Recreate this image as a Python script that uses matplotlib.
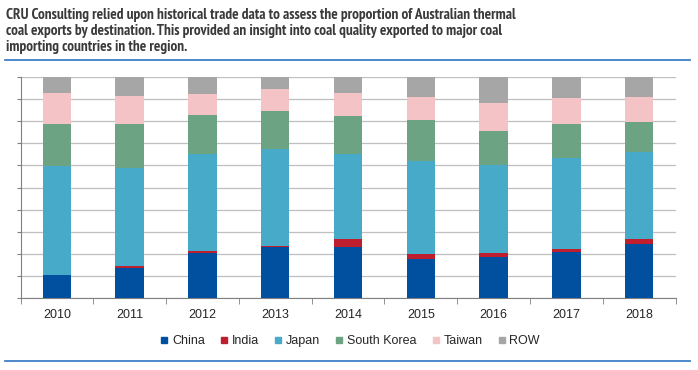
import matplotlib.pyplot as plt
import matplotlib.patheffects as pe
import numpy as np
from matplotlib import font_manager
from matplotlib.lines import Line2D

years = ["2010", "2011", "2012", "2013", "2014", "2015", "2016", "2017", "2018"]
china = [10.5, 13.5, 20.5, 23.0, 23.3, 17.6, 18.5, 21.1, 24.4]
india = [0.0, 0.9, 0.9, 0.6, 3.5, 2.4, 2.0, 1.3, 2.2]
japan = [49.2, 44.5, 43.9, 43.6, 38.5, 41.8, 39.7, 40.8, 39.6]
south_korea = [18.8, 19.6, 17.6, 17.2, 17.1, 18.7, 15.3, 15.3, 13.2]
taiwan = [14.3, 12.8, 9.4, 9.9, 10.4, 10.3, 12.8, 11.9, 11.4]
row = [7.2, 8.7, 7.7, 5.7, 7.2, 9.2, 11.7, 9.6, 9.2]

series = ["China", "India", "Japan", "South Korea", "Taiwan", "ROW"]
colors = ["#00509F", "#BE1E2D", "#47AAC8", "#6BA383", "#F4C3C6", "#A6A6A6"]

title = ("CRU Consulting relied upon historical trade data to assess the proportion of Australian thermal\n"
         "coal exports by destination. This provided an insight into coal quality exported to major coal\n"
         "importing countries in the region.")

# the original heading is in a bold narrow face; pick the file directly if there is one
narrow = [f for f in font_manager.fontManager.ttflist
          if ("Narrow" in f.name or "Narrow" in f.fname) and "Italic" not in f.fname]
bold_narrow = [f for f in narrow if "Bold" in f.fname or f.weight in (700, "bold")]
if bold_narrow:
    title_prop = font_manager.FontProperties(fname=bold_narrow[0].fname, size=11)
    title_fx = []
elif narrow:
    title_prop = font_manager.FontProperties(fname=narrow[0].fname, size=11)
    title_fx = [pe.withStroke(linewidth=0.8, foreground="#3A3A3A")]
else:
    title_prop = font_manager.FontProperties(family="Liberation Sans", weight="bold", size=10)
    title_fx = []

fig = plt.figure(figsize=(6.98, 3.70), dpi=100)
ax = fig.add_axes([20.5 / 698, 1 - 298.3 / 370, 655 / 698, 221.6 / 370])

x = np.arange(len(years))
bottom = np.zeros(len(years))
for name, vals, c in zip(series, [china, india, japan, south_korea, taiwan, row], colors):
    v = np.array(vals)
    ax.bar(x, v, width=0.39, bottom=bottom, color=c, zorder=3)
    bottom += v

ax.set_xlim(-0.5, len(years) - 0.5)
ax.set_ylim(0, 100)
ax.set_yticks(np.arange(0, 101, 10))
ax.set_yticklabels([])
ax.grid(axis="y", color="#BFBFBF", lw=0.9, zorder=0)
ax.set_xticks(x)
ax.set_xticklabels(years, fontsize=9, color="#262626", family="Liberation Sans")
ax.set_xticks(np.arange(-0.5, len(years)), minor=True)
ax.tick_params(axis="x", which="major", length=0, pad=8)
ax.tick_params(axis="x", which="minor", length=4, color="#808080", direction="out")
ax.tick_params(axis="y", length=3, color="#808080", direction="out")
for s in ["top", "right"]:
    ax.spines[s].set_visible(False)
ax.spines["left"].set_color("#808080")
ax.spines["bottom"].set_color("#808080")

handles = [Line2D([], [], marker="s", ls="none", ms=5, color=c, label=n)
           for n, c in zip(series, colors)]
fig.legend(handles=handles, loc="center", bbox_to_anchor=(0.5, 1 - 341 / 370), ncol=6,
           frameon=False, prop={"family": "Liberation Sans", "size": 9},
           handletextpad=0.1, columnspacing=1.05, handlelength=1.0, labelcolor="#262626")

fig.text(6 / 698, 1 - 7.5 / 370, title, ha="left", va="top", fontproperties=title_prop,
         color="#3A3A3A", linespacing=1.22, path_effects=title_fx)

fig.add_artist(Line2D([5 / 698, 690 / 698], [1 - 60 / 370] * 2, color="#3F7FC8", lw=1.3))
fig.add_artist(Line2D([5 / 698, 690 / 698], [1 - 361 / 370] * 2, color="#3F7FC8", lw=1.3))

fig.savefig("out.png", dpi=100)
